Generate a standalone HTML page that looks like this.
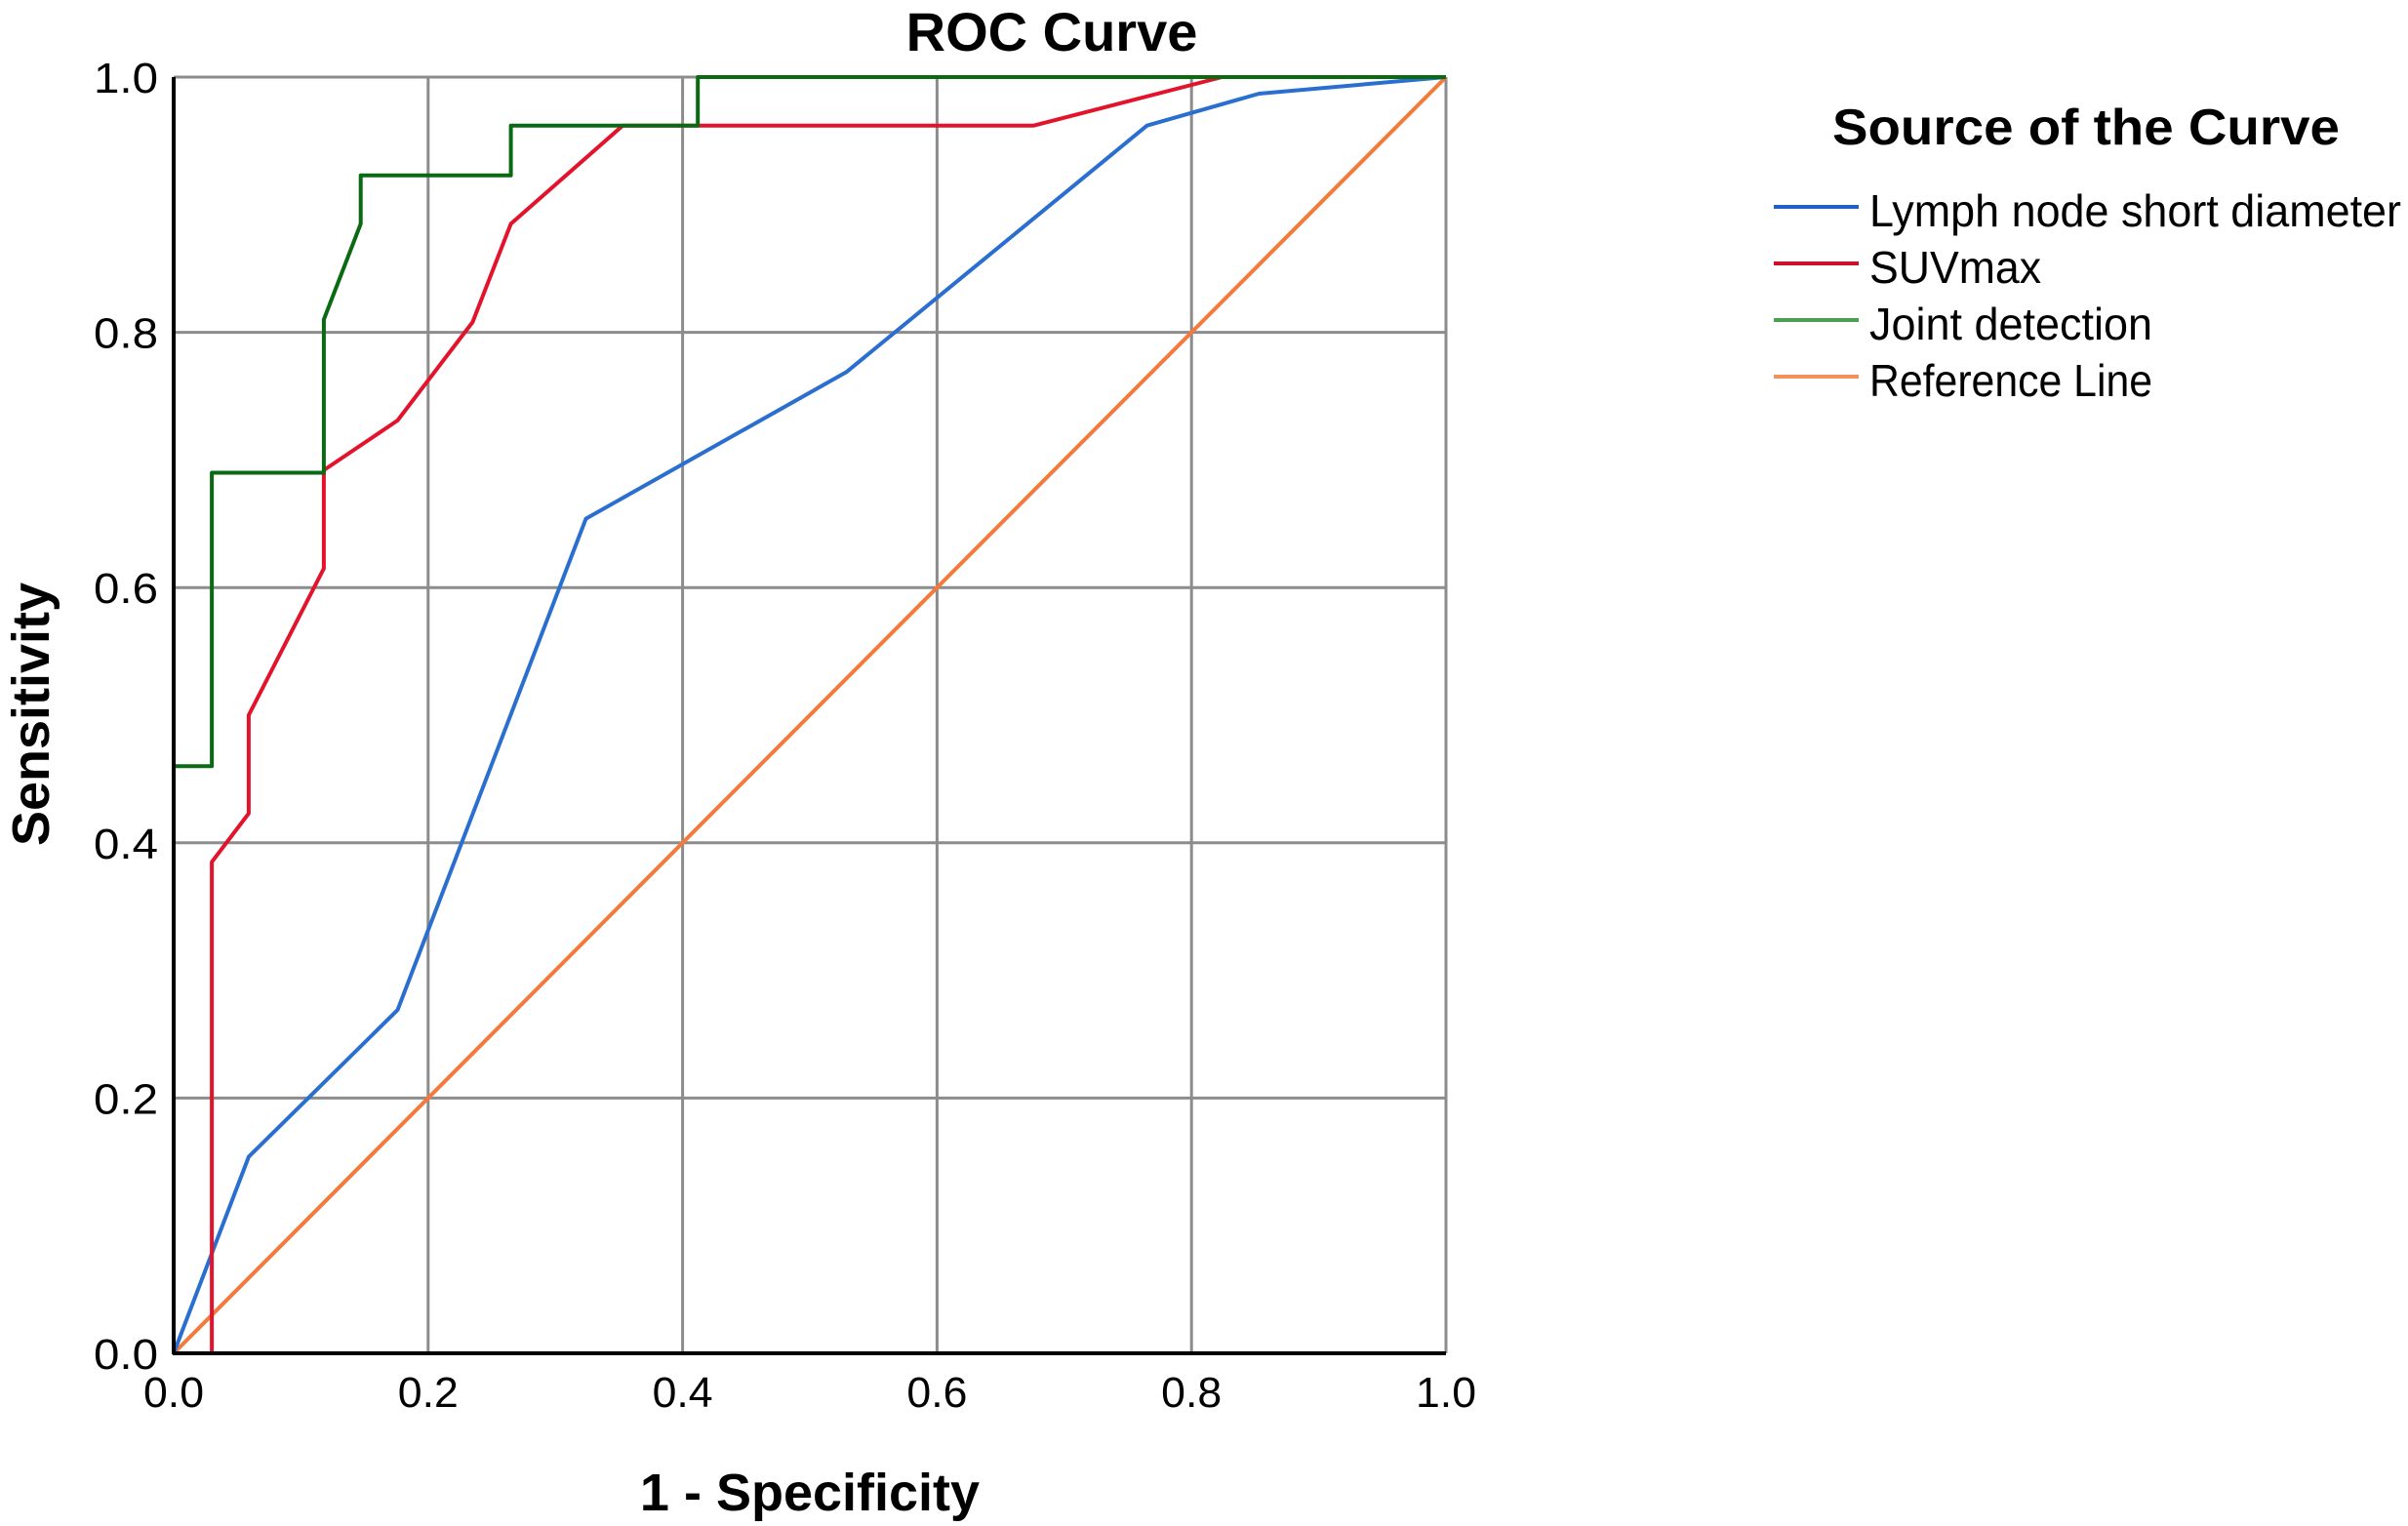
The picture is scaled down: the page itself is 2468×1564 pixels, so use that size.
<!DOCTYPE html>
<html><head><meta charset="utf-8"><style>
html,body{margin:0;padding:0;background:#fff;}
svg{display:block;}
text{font-family:"Liberation Sans",sans-serif;}
</style></head><body>
<svg id="chart" width="2468" height="1564" viewBox="0 0 2468 1564">
<g id="grid"></g>
<g id="series"></g>
<g id="axes"></g>
<text x="1078" y="52" font-size="56" font-weight="bold" text-anchor="middle">ROC Curve</text>
<text x="830" y="1548" font-size="54" font-weight="bold" text-anchor="middle">1 - Specificity</text>
<text x="0" y="0" font-size="54" font-weight="bold" text-anchor="middle" transform="translate(50,732) rotate(-90)">Sensitivity</text>
<g>
<text x="2138" y="148" font-size="52" font-weight="bold" text-anchor="middle" textLength="520" lengthAdjust="spacingAndGlyphs">Source of the Curve</text>
<g id="legend-items"></g>
</g>
</svg>
<script>
const xTicks = [0, 0.2, 0.4, 0.6, 0.8, 1.0];
const yTicks = [0, 0.2, 0.4, 0.6, 0.8, 1.0];
const tickLabels = ["0.0", "0.2", "0.4", "0.6", "0.8", "1.0"];
const seriesNames = ["Lymph node short diameter", "SUVmax", "Joint detection", "Reference Line"];
const lymphX = [0, 0.059, 0.176, 0.324, 0.529, 0.765, 0.853, 1];
const lymphY = [0, 0.154, 0.269, 0.654, 0.769, 0.962, 0.987, 1];
const suvX = [0, 0.03, 0.03, 0.059, 0.059, 0.118, 0.118, 0.176, 0.235, 0.265, 0.353, 0.676, 0.824, 1];
const suvY = [0, 0, 0.385, 0.423, 0.5, 0.615, 0.692, 0.731, 0.808, 0.885, 0.962, 0.962, 1, 1];
const jointX = [0, 0, 0.03, 0.03, 0.118, 0.118, 0.147, 0.147, 0.265, 0.265, 0.412, 0.412, 1];
const jointY = [0, 0.46, 0.46, 0.69, 0.69, 0.81, 0.885, 0.923, 0.923, 0.962, 0.962, 1, 1];
const refX = [0, 1];
const refY = [0, 1];

const NS = "http://www.w3.org/2000/svg";
const X0 = 178, X1 = 1482, Y0 = 1387, Y1 = 79;
function sx(v){ return X0 + v * (X1 - X0); }
function sy(v){ return Y0 - v * (Y0 - Y1); }
function mk(tag, attrs, parent){
  const e = document.createElementNS(NS, tag);
  for (const k in attrs) e.setAttribute(k, attrs[k]);
  parent.appendChild(e);
  return e;
}
const grid = document.getElementById('grid');
const axes = document.getElementById('axes');
xTicks.forEach((t, i) => {
  if (t > 0) {
    const l = mk('line', {x1: sx(t), x2: sx(t), y1: Y1, y2: Y0, stroke: '#8c8c8c', 'stroke-width': 3}, grid);
    
    
  }
  const tx = mk('text', {x: sx(t), y: 1442, 'font-size': 44, 'text-anchor': 'middle', textLength: 62, lengthAdjust: 'spacingAndGlyphs'}, axes);
  tx.textContent = tickLabels[i];
  
  
});
yTicks.forEach((t, i) => {
  if (t > 0) {
    const l = mk('line', {x1: X0, x2: X1, y1: sy(t), y2: sy(t), stroke: '#8c8c8c', 'stroke-width': 3}, grid);
    
    
  }
  const tx = mk('text', {x: 96, y: sy(t) + 16, 'font-size': 44, textLength: 66, lengthAdjust: 'spacingAndGlyphs'}, axes);
  tx.textContent = tickLabels[i];
  
  
});
const xa = mk('line', {x1: X0 - 1, x2: X1, y1: Y0, y2: Y0, stroke: '#000', 'stroke-width': 4}, axes);


const ya = mk('line', {x1: X0, x2: X0, y1: Y1, y2: Y0 + 1, stroke: '#000', 'stroke-width': 4}, axes);



const series = document.getElementById('series');
const defs = [
  {xs: refX, ys: refY, c: '#f47a3c', n: 'reference-line'},
  {xs: lymphX, ys: lymphY, c: '#2a6fd0', n: 'lymph-node-curve'},
  {xs: suvX, ys: suvY, c: '#e3132c', n: 'suvmax-curve'},
  {xs: jointX, ys: jointY, c: '#0a6a14', n: 'joint-detection-curve'}
];
defs.forEach(d => {
  const pts = d.xs.map((x, i) => sx(x).toFixed(1) + ',' + sy(d.ys[i]).toFixed(1)).join(' ');
  const p = mk('polyline', {points: pts, fill: 'none', stroke: d.c, 'stroke-width': 4, 'stroke-linejoin': 'round'}, series);
  
  
});

const li = document.getElementById('legend-items');
const legColors = ['#1f5fc8', '#d0102a', '#4aa050', '#f4915a'];
const legLen = [545, 176, 290, 290];
seriesNames.forEach((name, i) => {
  const y = 216 + i * 58;
  const l = mk('line', {x1: 1818, x2: 1905, y1: y - 4, y2: y - 4, stroke: legColors[i], 'stroke-width': 4}, li);
  
  
  const t = mk('text', {x: 1916, y: y + 16, 'font-size': 46, textLength: legLen[i], lengthAdjust: 'spacingAndGlyphs'}, li);
  t.textContent = name;
  
  
});
</script>
</body></html>
